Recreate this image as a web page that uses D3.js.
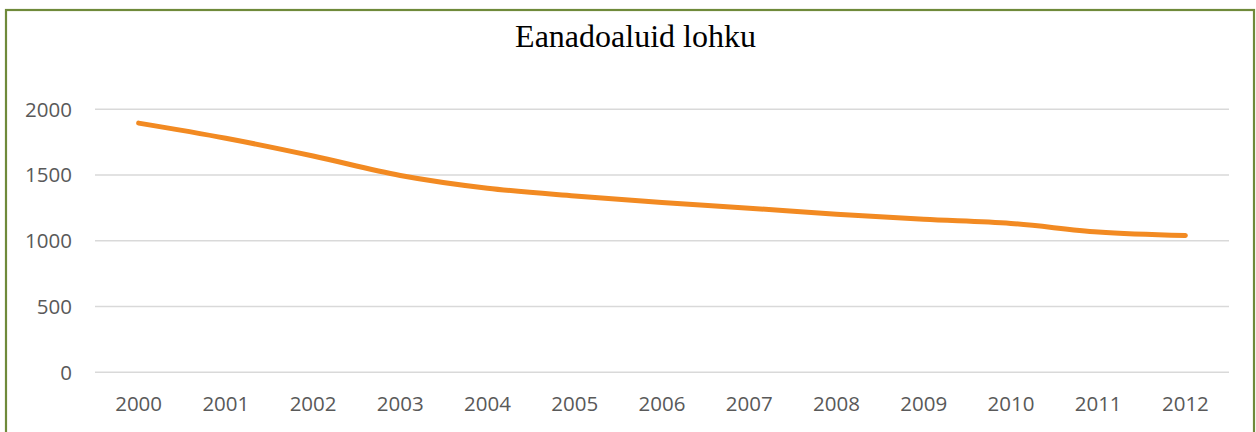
<!DOCTYPE html>
<html lang="et">
<head>
  <meta charset="UTF-8">
  <script src="https://d3js.org/d3.v7.min.js"></script>
  <title>Eanadoaluid lohku</title>
  <style>
    html, body { margin: 0; padding: 0; background: #ffffff; }
    #chart { width: 1256px; height: 432px; }
  </style>
</head>
<body>
  <div id="chart"></div>
  <script>
    const chart_title = "Eanadoaluid lohku";
    const years = ["2000", "2001", "2002", "2003", "2004", "2005", "2006",
      "2007", "2008", "2009", "2010", "2011", "2012"];
    const values = [1895, 1780, 1645, 1497, 1400, 1341, 1292, 1248, 1201, 1163, 1132, 1067, 1040];
    const y_ticks = [0, 500, 1000, 1500, 2000];

    const svg_width = 1256;
    const svg_height = 432;
    const line_color = "#f28a22";
    const grid_color = "#d9d9d9";
    const label_color = "#595959";

    const plot_left = 95;
    const plot_right = 1229;
    const plot_top = 109.3;   // y of the 2000 gridline
    const plot_bottom = 372.3;

    const svg = d3.select("#chart")
      .append("svg")
      .attr("width", svg_width)
      .attr("height", svg_height);

    // frame
    svg.append("rect")
      .attr("x", 6)
      .attr("y", 10)
      .attr("width", 1248)
      .attr("height", 440)
      .attr("fill", "#ffffff")
      .attr("stroke", "#6f8a3a")
      .attr("stroke-width", 2.2);

    const x = d3.scaleBand()
      .domain(years)
      .range([plot_left, plot_right]);

    const y = d3.scaleLinear()
      .domain([0, 2000])
      .range([plot_bottom, plot_top]);

    // gridlines
    svg.append("g")
      .selectAll("line")
      .data(y_ticks)
      .enter()
      .append("line")
      .attr("x1", plot_left)
      .attr("x2", plot_right)
      .attr("y1", d => y(d))
      .attr("y2", d => y(d))
      .attr("stroke", grid_color)
      .attr("stroke-width", 1.5);

    // y labels
    svg.append("g")
      .selectAll("text")
      .data(y_ticks)
      .enter()
      .append("text")
      .attr("x", 72)
      .attr("y", d => y(d))
      .attr("dy", "0.36em")
      .attr("text-anchor", "end")
      .attr("fill", label_color)
      .attr("style", "font-family:'Open Sans';font-size:20.5px")
      .text(d => d);

    // x labels
    svg.append("g")
      .selectAll("text")
      .data(years)
      .enter()
      .append("text")
      .attr("x", d => x(d) + x.bandwidth() / 2)
      .attr("y", 410.5)
      .attr("text-anchor", "middle")
      .attr("fill", label_color)
      .attr("style", "font-family:'Open Sans';font-size:20.5px")
      .text(d => d);

    // line
    const line = d3.line()
      .x((d, i) => x(years[i]) + x.bandwidth() / 2)
      .y(d => y(d))
      .curve(d3.curveCatmullRom.alpha(0.5));

    svg.append("path")
      .datum(values)
      .attr("fill", "none")
      .attr("stroke", line_color)
      .attr("stroke-width", 5)
      .attr("stroke-linecap", "round")
      .attr("stroke-linejoin", "round")
      .attr("d", line);

    svg.append("text")
      .attr("x", 635.5)
      .attr("y", 47.3)
      .attr("text-anchor", "middle")
      .attr("fill", "#000000")
      .attr("style", "font-family:'Liberation Serif';font-size:32px")
      .text(chart_title);
  </script>
</body>
</html>
